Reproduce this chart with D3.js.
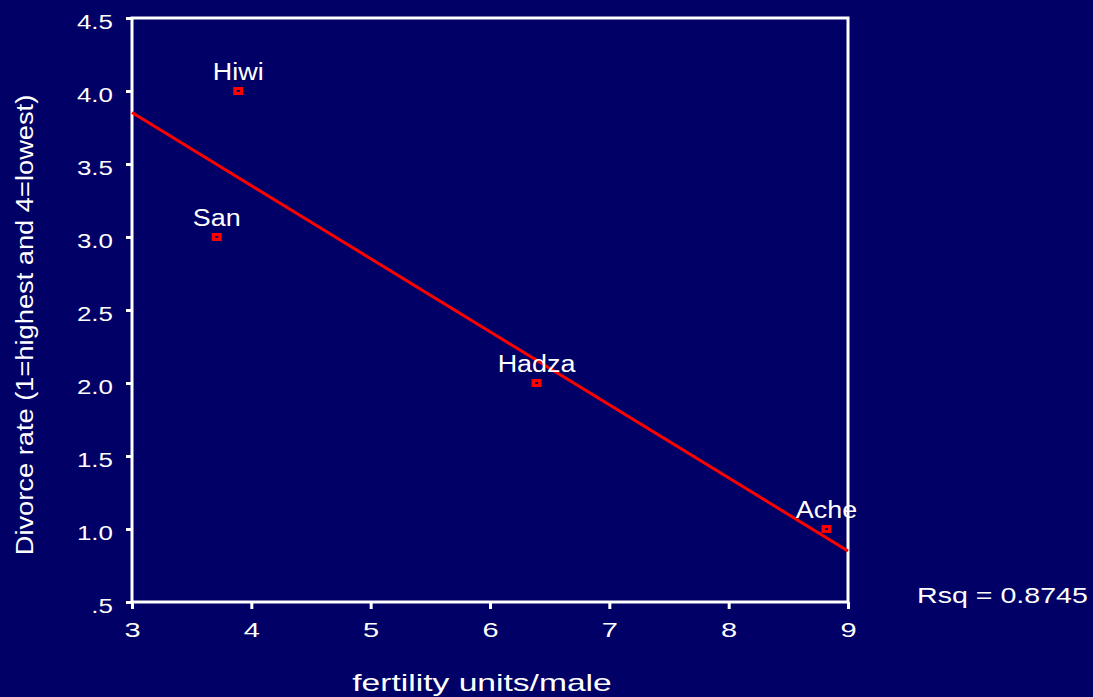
<!DOCTYPE html>
<html>
<head>
<meta charset="utf-8">
<script src="https://cdn.jsdelivr.net/npm/d3@7"></script>
<style>
body { margin: 0; background: #000066; }
text { font-family: "Liberation Sans", Arial, sans-serif; fill: white; }
</style>
</head>
<body>
<div id="chart"></div>
<script>
var groups = ["Hiwi", "San", "Hadza", "Ache"];
var fertility = [3.89, 3.71, 6.39, 8.82];
var divorce = [4.0, 3.0, 2.0, 1.0];
var xTicks = [3, 4, 5, 6, 7, 8, 9];
var yTicks = [0.5, 1.0, 1.5, 2.0, 2.5, 3.0, 3.5, 4.0, 4.5];
var rsqLabel = "Rsq = 0.8745";

var ctx = { width: 1093, height: 697, left: 132, right: 848, top: 18, bottom: 602 };

var svg = d3.select("#chart")
	.append("svg")
	.attr("width", ctx.width)
	.attr("height", ctx.height);

var xscale = d3.scaleLinear().domain([3, 9]).range([ctx.left, ctx.right]);
var yscale = d3.scaleLinear().domain([0.5, 4.5]).range([ctx.bottom, ctx.top]);

// the original text is drawn wide, so stretch it horizontally around its anchor
function stretch(sel, sx) {
	sel.each(function () {
		var t = d3.select(this);
		var x = +t.attr("x") || 0;
		var y = +t.attr("y") || 0;
		t.attr("x", 0).attr("y", 0)
			.attr("transform", "translate(" + x + "," + y + ") scale(" + sx + ",1)");
	});
}

// least squares fit
var mx = d3.mean(fertility), my = d3.mean(divorce);
var sxy = d3.sum(fertility, (d, i) => (d - mx) * (divorce[i] - my));
var sxx = d3.sum(fertility, (d) => (d - mx) * (d - mx));
var slope = sxy / sxx;
var intercept = my - slope * mx;

// box
svg.append("rect")
	.attr("x", ctx.left)
	.attr("y", ctx.top)
	.attr("width", ctx.right - ctx.left)
	.attr("height", ctx.bottom - ctx.top)
	.attr("fill", "none")
	.attr("stroke", "white")
	.attr("stroke-width", 3);

var xAxis = svg.append("g")
	.attr("class", "x-axis")
	.attr("transform", "translate(0," + ctx.bottom + ")")
	.call(d3.axisBottom(xscale).tickValues(xTicks).tickSize(7).tickPadding(14).tickFormat(d3.format("d")));

var yAxis = svg.append("g")
	.attr("class", "y-axis")
	.attr("transform", "translate(" + ctx.left + ",0)")
	.call(d3.axisLeft(yscale).tickValues(yTicks).tickSize(6).tickPadding(13)
		.tickFormat((d) => d == 0.5 ? ".5" : d3.format(".1f")(d)));

svg.selectAll(".domain").remove();
svg.selectAll(".tick line").attr("stroke", "white").attr("stroke-width", 3);
svg.selectAll(".tick text")
	.attr("fill", "white")
	.style("font-family", "'Liberation Sans', Arial, sans-serif");
xAxis.selectAll(".tick text").style("font-size", "20px");
yAxis.selectAll(".tick text").style("font-size", "19.5px").attr("dy", "0.52em");
stretch(xAxis.selectAll(".tick text"), 1.45);
stretch(yAxis.selectAll(".tick text"), 1.33);

// fit line
svg.append("line")
	.attr("x1", xscale(3))
	.attr("y1", yscale(intercept + slope * 3))
	.attr("x2", xscale(9))
	.attr("y2", yscale(intercept + slope * 9))
	.attr("stroke", "#ff0000")
	.attr("stroke-width", 3);

// points
var pts = svg.selectAll(".pt")
	.data(groups.map((g, i) => ({ name: g, x: fertility[i], y: divorce[i] })))
	.join("g")
	.attr("class", "pt");

pts.append("rect")
	.attr("x", (d) => xscale(d.x) - 5)
	.attr("y", (d) => yscale(d.y) - 4)
	.attr("width", 10)
	.attr("height", 8)
	.attr("fill", "#ff0000");

pts.append("rect")
	.attr("x", (d) => xscale(d.x) - 1.5)
	.attr("y", (d) => yscale(d.y) - 1)
	.attr("width", 3)
	.attr("height", 2)
	.attr("fill", "#000066");

var labels = pts.append("text")
	.attr("x", (d) => xscale(d.x))
	.attr("y", (d) => yscale(d.y) - 11)
	.attr("text-anchor", "middle")
	.style("font-size", "23px")
	.text((d) => d.name);
stretch(labels, 1.17);

// titles
var xTitle = svg.append("text")
	.attr("x", 482)
	.attr("y", 691)
	.attr("text-anchor", "middle")
	.style("font-size", "24px")
	.text("fertility units/male");
stretch(xTitle, 1.4);

svg.append("text")
	.attr("transform", "translate(33,325) rotate(-90) scale(1.136,1)")
	.attr("text-anchor", "middle")
	.style("font-size", "24px")
	.text("Divorce rate (1=highest and 4=lowest)");

var rsq = svg.append("text")
	.attr("x", 917)
	.attr("y", 603)
	.style("font-size", "22px")
	.text(rsqLabel);
stretch(rsq, 1.3);
</script>
</body>
</html>
